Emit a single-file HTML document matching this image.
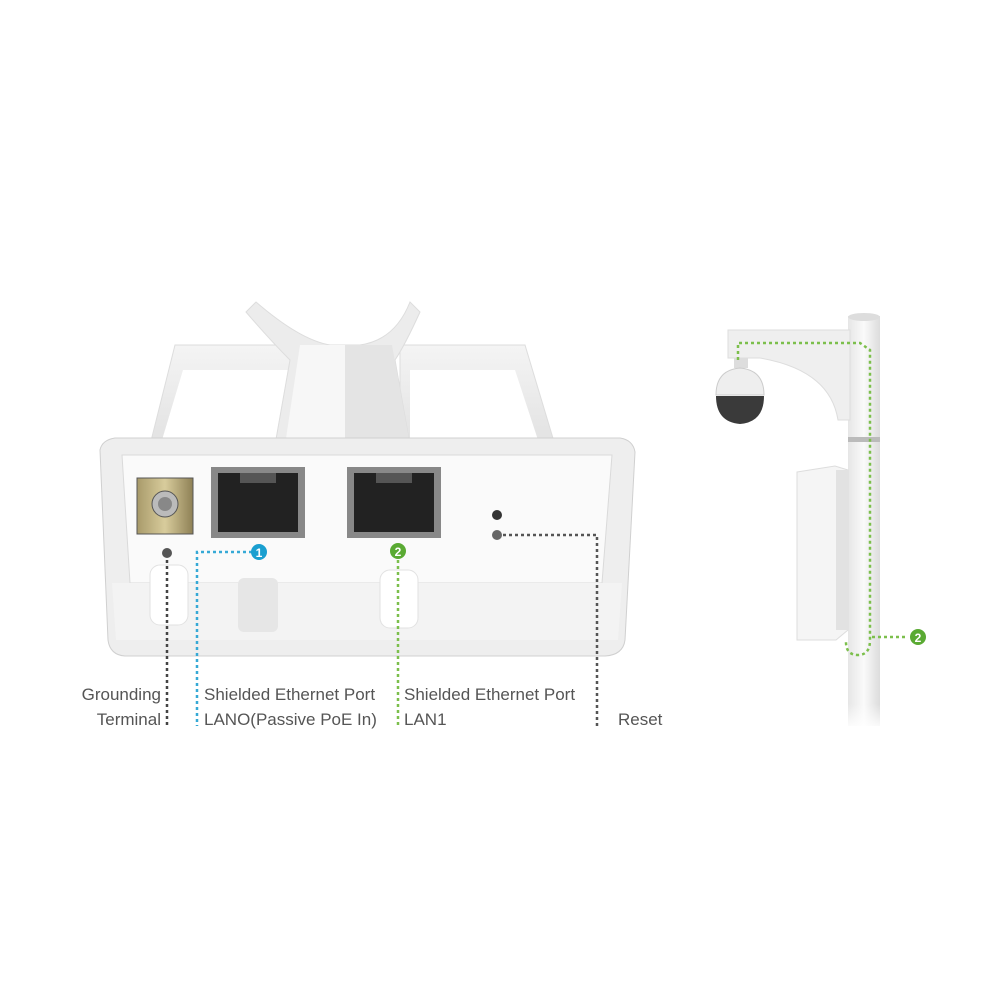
<!DOCTYPE html>
<html><head><meta charset="utf-8"><style>
html,body{margin:0;padding:0;background:#fff;}
svg{display:block;}
text{font-family:"Liberation Sans",sans-serif;fill:#555;font-size:17px;}
</style></head><body>
<svg width="1000" height="1000" viewBox="0 0 1000 1000" xmlns="http://www.w3.org/2000/svg">
<defs>
<linearGradient id="fin" x1="0" y1="0" x2="0" y2="1"><stop offset="0" stop-color="#f4f4f4"/><stop offset="1" stop-color="#e2e2e2"/></linearGradient>
<linearGradient id="pole" x1="0" y1="0" x2="1" y2="0"><stop offset="0" stop-color="#e6e6e6"/><stop offset="0.5" stop-color="#fafafa"/><stop offset="1" stop-color="#dcdcdc"/></linearGradient>
<linearGradient id="polefade" x1="0" y1="0" x2="0" y2="1"><stop offset="0.8" stop-color="#fff" stop-opacity="0"/><stop offset="1" stop-color="#fff" stop-opacity="1"/></linearGradient>
<linearGradient id="plate" x1="0" y1="0" x2="1" y2="0"><stop offset="0" stop-color="#a89a6a"/><stop offset="0.5" stop-color="#d8cc9c"/><stop offset="1" stop-color="#8e8055"/></linearGradient>
</defs>
<!-- fins -->
<path d="M150 445 L175 345 L300 345 L300 445 Z" fill="url(#fin)" stroke="#ddd"/>
<path d="M162 440 L183 370 L290 370 L290 440 Z" fill="#fff"/>
<path d="M400 445 L400 345 L525 345 L555 445 Z" fill="url(#fin)" stroke="#ddd"/>
<path d="M410 440 L410 370 L515 370 L538 440 Z" fill="#fff"/>
<path d="M246 312 L256 302 Q300 340 330 345 L360 345 Q395 340 410 302 L420 312 Q405 345 395 360 L410 445 L275 445 L290 360 Q270 340 246 312 Z" fill="#ececec" stroke="#ddd"/>
<path d="M300 345 L345 345 L345 445 L285 445 Z" fill="#f7f7f7"/>
<path d="M345 345 L392 345 L410 445 L345 445 Z" fill="#e4e4e4"/>
<!-- back panel -->
<path d="M100 450 Q102 440 115 438 L620 438 Q633 440 635 452 L625 640 Q623 655 605 656 L125 656 Q110 655 108 640 Z" fill="#eeeeee" stroke="#d0d0d0"/>
<path d="M122 455 L612 455 L602 583 L130 583 Z" fill="#fafafa" stroke="#dadada"/>
<path d="M112 583 L622 583 L618 640 L116 640 Z" fill="#f3f3f3"/>
<rect x="150" y="565" width="38" height="60" rx="10" fill="#fff" stroke="#e2e2e2"/>
<rect x="238" y="578" width="40" height="54" rx="6" fill="#e6e6e6"/>
<rect x="380" y="570" width="38" height="58" rx="10" fill="#fff" stroke="#e2e2e2"/>
<!-- grounding plate -->
<rect x="137" y="478" width="56" height="56" fill="url(#plate)" stroke="#555"/>
<circle cx="165" cy="504" r="13" fill="#bbb" stroke="#555"/>
<circle cx="165" cy="504" r="7" fill="#888"/>
<!-- ports -->
<rect x="211" y="467" width="94" height="71" fill="#888"/>
<rect x="218" y="473" width="80" height="59" fill="#222"/>
<rect x="240" y="473" width="36" height="10" fill="#555"/>
<rect x="347" y="467" width="94" height="71" fill="#888"/>
<rect x="354" y="473" width="80" height="59" fill="#222"/>
<rect x="376" y="473" width="36" height="10" fill="#555"/>
<!-- reset dots -->
<circle cx="497" cy="515" r="5" fill="#333"/>
<circle cx="497" cy="535" r="5" fill="#666"/>
<circle cx="167" cy="553" r="5" fill="#555"/>
<!-- connectors -->
<g fill="none" stroke-width="2.5" stroke-dasharray="3,3">
<path d="M167 560 V726" stroke="#444"/>
<path d="M252 552 H197 V726" stroke="#36a9d6"/>
<path d="M398 560 V726" stroke="#7cbf4c"/>
<path d="M503 535 H597 V726" stroke="#555"/>
</g>
<circle cx="259" cy="552" r="8" fill="#1a9fd0"/>
<text x="259" y="557" text-anchor="middle" style="fill:#fff;font-weight:bold;font-size:12px">1</text>
<circle cx="398" cy="551" r="8" fill="#5aaa33"/>
<text x="398" y="556" text-anchor="middle" style="fill:#fff;font-weight:bold;font-size:12px">2</text>
<!-- labels -->
<text x="161" y="700" text-anchor="end">Grounding</text>
<text x="161" y="725" text-anchor="end">Terminal</text>
<text x="204" y="700">Shielded Ethernet Port</text>
<text x="204" y="725">LANO(Passive PoE In)</text>
<text x="404" y="700">Shielded Ethernet Port</text>
<text x="404" y="725">LAN1</text>
<text x="618" y="725">Reset</text>
<!-- pole -->
<rect x="848" y="316" width="32" height="410" fill="url(#pole)"/>
<ellipse cx="864" cy="317" rx="16" ry="4" fill="#ddd"/>
<rect x="848" y="437" width="32" height="5" fill="#bbb"/>
<rect x="846" y="600" width="36" height="130" fill="url(#polefade)"/>
<!-- arm -->
<path d="M728 330 L850 330 L850 420 L838 420 Q830 370 760 358 L728 358 Z" fill="#efefef" stroke="#ddd"/>
<rect x="734" y="358" width="14" height="10" fill="#ddd"/>
<path d="M716 395 Q716 370 740 368 Q764 370 764 395 Z" fill="#eee" stroke="#ccc"/>
<path d="M716 396 L764 396 Q764 422 740 424 Q716 422 716 396 Z" fill="#3a3a3a"/>
<!-- CPE box -->
<path d="M797 472 L835 466 L848 470 L848 630 L836 640 L797 640 Z" fill="#f5f5f5" stroke="#ddd"/>
<rect x="836" y="470" width="12" height="160" fill="#e2e2e2"/>
<g fill="none" stroke="#7cbf4c" stroke-width="2.5" stroke-dasharray="3,3">
<path d="M738 360 V343 H860 L870 350 V640 Q870 655 858 655 Q846 655 846 642"/>
<path d="M872 637 H908"/>
</g>
<circle cx="918" cy="637" r="8" fill="#5aaa33"/>
<text x="918" y="642" text-anchor="middle" style="fill:#fff;font-weight:bold;font-size:12px">2</text>
</svg>
</body></html>
